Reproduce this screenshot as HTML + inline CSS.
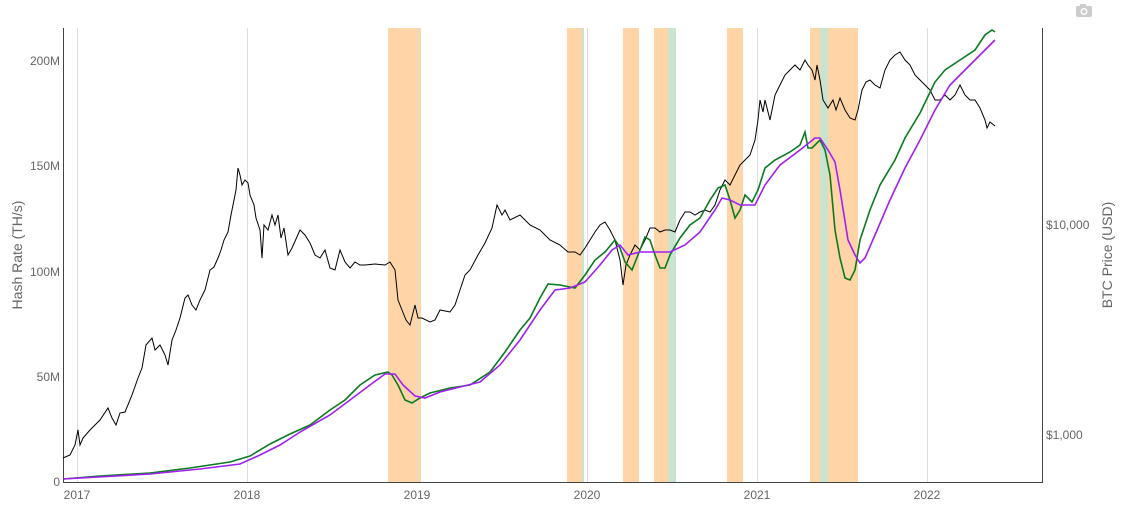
<!DOCTYPE html>
<html><head><style>body{margin:0;background:#fff}svg{display:block;font-family:"Liberation Sans",sans-serif}</style></head><body>
<svg width="1121" height="508" viewBox="0 0 1121 508">
<g fill="#ffd5a8">
<rect x="388" y="28" width="33" height="454"/><rect x="567" y="28" width="15" height="454"/><rect x="623" y="28" width="16" height="454"/><rect x="654" y="28" width="14" height="454"/><rect x="727" y="28" width="16" height="454"/><rect x="810" y="28" width="10" height="454"/><rect x="828" y="28" width="30" height="454"/></g>
<g fill="#c9e3cf"><rect x="668" y="28" width="8" height="454"/><rect x="820" y="28" width="8" height="454"/><rect x="582" y="28" width="2" height="454"/></g>
<g stroke="#ddd" stroke-width="1"><line x1="77.5" y1="28" x2="77.5" y2="482"/><line x1="247.5" y1="28" x2="247.5" y2="482"/><line x1="417.5" y1="28" x2="417.5" y2="482"/><line x1="587.5" y1="28" x2="587.5" y2="482"/><line x1="757.5" y1="28" x2="757.5" y2="482"/><line x1="927.5" y1="28" x2="927.5" y2="482"/></g>
<g stroke="#444" stroke-width="1"><line x1="63.5" y1="28" x2="63.5" y2="482"/><line x1="1042.5" y1="28" x2="1042.5" y2="482"/><line x1="63" y1="482.5" x2="1043" y2="482.5"/></g>
<polyline fill="none" stroke="#000" stroke-width="1" points="63,458 70,455 75,445 78,430 80,445 83,438 90,430 100,420 108,408 112,418 116,425 120,413 125,412 132,395 138,378 142,368 146,345 152,338 155,350 160,345 165,355 168,365 172,340 176,330 180,318 185,298 188,295 192,305 196,310 200,300 205,290 210,270 214,267 218,258 221,250 224,240 228,232 231,215 236,190 238,168 240,175 242,185 245,180 248,183 250,195 254,205 256,218 260,230 262,258 264,225 268,230 272,215 275,225 278,215 281,238 284,228 288,255 292,248 300,230 305,235 310,243 315,255 320,258 325,250 330,268 335,270 340,250 345,262 350,268 355,262 360,265 365,265 375,264 385,265 390,262 395,270 398,300 402,310 406,320 410,325 415,305 418,318 422,318 430,322 435,320 440,310 450,312 455,305 460,290 465,275 470,270 478,255 485,243 492,228 497,205 502,215 505,210 510,220 520,215 530,225 540,230 550,240 560,245 568,252 575,252 580,255 585,248 590,240 595,232 600,225 605,222 610,230 615,240 620,260 623,285 626,265 630,255 635,245 640,250 645,240 650,228 655,228 660,232 665,230 670,230 675,232 680,220 685,212 690,212 695,215 700,212 705,210 710,212 715,205 720,190 725,180 730,185 735,175 740,165 745,160 750,155 755,140 758,120 760,100 763,112 765,100 770,120 775,95 780,85 785,75 790,70 795,65 800,70 805,60 808,65 812,70 815,80 817,65 820,80 823,100 828,108 833,100 836,110 840,98 845,110 850,118 855,120 858,110 862,90 866,82 870,80 875,85 880,88 885,70 890,60 895,55 900,52 905,60 910,65 915,75 920,80 925,85 930,90 935,100 940,100 945,95 950,100 955,95 960,85 965,95 970,100 975,100 980,108 985,120 987,128 990,122 995,126"/>
<polyline fill="none" stroke="#0a7a1f" stroke-width="1.6" points="63,479 100,476 150,473 190,468 230,462 250,456 270,444 290,434 310,425 330,410 345,400 360,385 375,375 388,372 392,375 398,385 405,400 412,403 420,398 430,393 450,388 470,385 490,372 505,352 520,330 530,318 540,298 548,284 560,285 575,288 585,275 595,260 605,252 615,240 620,248 625,262 632,270 640,250 645,237 650,240 655,255 660,268 665,268 670,255 680,238 690,225 700,218 710,200 718,188 725,185 730,200 735,218 740,210 745,195 752,202 758,190 765,168 775,160 790,152 800,145 805,132 808,148 812,148 820,140 825,150 830,175 835,230 840,258 845,278 850,280 855,270 860,240 870,210 880,185 895,160 905,138 920,113 935,82 945,70 960,60 975,50 985,35 992,30 995,32"/>
<polyline fill="none" stroke="#a020f0" stroke-width="1.6" points="63,479 150,474 200,469 240,464 260,455 280,445 300,432 330,415 350,400 370,385 385,374 395,374 403,385 415,396 425,398 440,392 460,387 480,382 500,365 520,340 540,310 555,290 570,288 585,282 600,265 612,250 620,245 628,255 640,252 655,252 670,252 685,245 700,232 715,210 722,198 730,200 740,205 755,205 765,185 780,165 800,150 815,138 820,138 828,150 835,162 840,190 848,240 855,255 860,263 865,258 875,235 890,200 905,168 920,140 935,110 950,85 965,70 980,55 995,40"/>
<g fill="#666" font-size="12">
<g text-anchor="end"><text x="60" y="486">0</text><text x="60" y="381">50M</text><text x="60" y="276">100M</text><text x="60" y="170">150M</text><text x="60" y="65">200M</text></g>
<text x="1046" y="229">$10,000</text><text x="1046" y="439">$1,000</text>
<g text-anchor="middle"><text x="77" y="499">2017</text><text x="247" y="499">2018</text><text x="417" y="499">2019</text><text x="587" y="499">2020</text><text x="757" y="499">2021</text><text x="927" y="499">2022</text></g>
<text transform="translate(22,255) rotate(-90)" text-anchor="middle" font-size="14">Hash Rate (TH/s)</text>
<text transform="translate(1112,255) rotate(-90)" text-anchor="middle" font-size="14">BTC Price (USD)</text>
</g>
<g fill="#ccc"><rect x="1076" y="6" width="16" height="11" rx="2"/><rect x="1080" y="4" width="6" height="3"/><circle cx="1084" cy="11.5" r="3.5" fill="#fff"/><circle cx="1084" cy="11.5" r="2"/></g>
</svg>
</body></html>
